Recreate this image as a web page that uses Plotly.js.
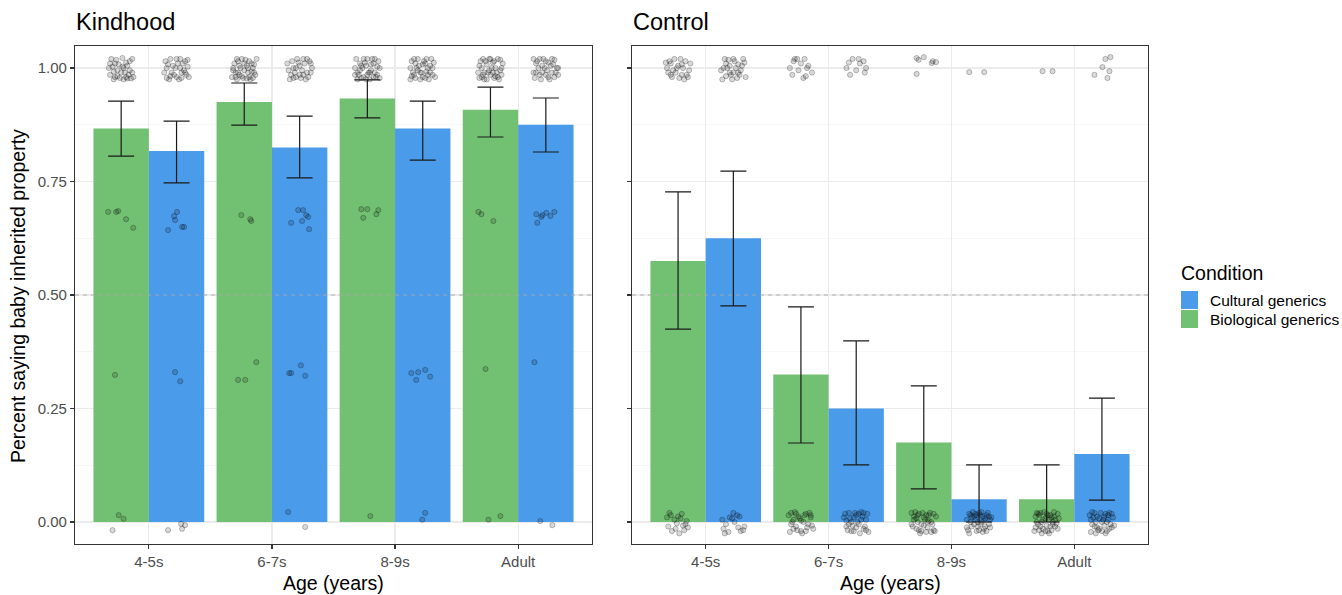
<!DOCTYPE html>
<html>
<head>
<meta charset="utf-8">
<script src="https://cdn.plot.ly/plotly-3.0.1.min.js"></script>
<style>html,body{margin:0;padding:0;background:#fff;}#chart{width:1342px;height:595px;}</style>
</head>
<body>
<div id="chart"></div>
<script>
// ---------------- DATA ----------------
const ages = ["4-5s", "6-7s", "8-9s", "Adult"];
const panelNames = ["Kindhood", "Control"];
const conditionNames = ["Cultural generics", "Biological generics"];

// Kindhood panel: bar means and error-bar limits
const kindBio      = [0.867, 0.925, 0.933, 0.908];
const kindBioHi    = [0.927, 0.967, 0.974, 0.958];
const kindBioLo    = [0.806, 0.874, 0.890, 0.848];
const kindCult     = [0.817, 0.825, 0.867, 0.875];
const kindCultHi   = [0.883, 0.894, 0.927, 0.934];
const kindCultLo   = [0.747, 0.758, 0.797, 0.815];

// Control panel
const ctrlBio      = [0.575, 0.325, 0.175, 0.050];
const ctrlBioHi    = [0.727, 0.474, 0.300, 0.126];
const ctrlBioLo    = [0.425, 0.174, 0.073, 0.000];
const ctrlCult     = [0.625, 0.250, 0.050, 0.150];
const ctrlCultHi   = [0.773, 0.399, 0.126, 0.273];
const ctrlCultLo   = [0.476, 0.126, 0.000, 0.048];

// Individual (jittered) participant scores: [horizontal jitter in category units, score]
const kindBioPts = [
  [[-0.08,1.02],[-0.05,1.01],[0.02,1.00],[0.07,1.015],[0.09,0.99],[-0.09,0.985],[-0.03,0.995],[0.04,0.98],[-0.06,0.975],[0.01,1.022],[0.05,1.005],[-0.01,0.978],[0.08,0.977],[-0.07,1.003],[0.03,0.99],[-0.04,1.018],[0.06,0.985],[-0.02,1.008],[0.10,0.98],[-0.10,1.0],[0.00,0.99],[-0.06,0.992],[0.04,1.012],[0.07,0.995],[-0.09,1.01],[0.02,0.975],[-0.03,0.982],[0.09,1.02],[-0.05,0.98],[0.05,0.977],[0.01,1.003],
   [-0.106,0.683],[-0.04,0.683],[-0.024,0.685],[0.04,0.667],[0.098,0.648],[-0.05,0.324],[-0.02,0.015],[0.02,0.007],[-0.07,-0.018]],
  [[-0.09,1.0],[-0.07,0.99],[-0.05,1.015],[-0.04,0.985],[-0.02,1.02],[0.0,0.995],[0.02,1.005],[0.04,0.98],[0.06,1.01],[0.08,0.99],[0.10,1.02],[-0.10,0.98],[-0.08,1.01],[-0.06,0.975],[-0.03,1.0],[-0.01,0.978],[0.01,1.018],[0.03,0.99],[0.05,0.975],[0.07,1.0],[0.09,0.985],[-0.09,0.995],[-0.06,1.02],[-0.04,1.005],[-0.02,0.982],[0.0,1.01],[0.02,0.977],[0.04,1.015],[0.06,0.992],[0.08,1.008],[-0.07,0.98],[-0.05,0.99],[0.03,1.0],[0.07,0.978],
   [-0.024,0.676],[0.049,0.667],[0.057,0.663],[0.098,0.352],[-0.05,0.313],[0.008,0.313]],
  [[-0.08,0.99],[-0.06,1.01],[-0.1,1.0],[-0.03,0.98],[0.0,1.02],[0.03,0.995],[0.05,1.01],[0.08,0.985],[0.1,1.0],[-0.09,1.02],[-0.05,0.978],[-0.01,1.005],[0.02,0.975],[0.06,0.99],[0.09,1.015],[-0.07,0.985],[-0.04,1.0],[0.01,0.99],[0.04,1.02],[0.07,0.98],[-0.02,1.012],[-0.08,0.975],[0.05,0.98],[-0.06,0.995],[0.0,0.985],[0.03,1.008],[-0.03,1.02],[0.08,1.003],[-0.1,0.985],[0.06,1.02],[-0.05,1.005],[0.02,0.99],[-0.01,0.975],[0.1,0.978],
   [-0.049,0.689],[0.0,0.689],[0.089,0.687],[-0.033,0.670],[0.073,0.678],[0.024,0.013]],
  [[-0.09,1.005],[-0.07,0.98],[-0.04,1.015],[-0.02,0.99],[0.01,1.0],[0.03,0.978],[0.06,1.02],[0.08,0.995],[0.1,1.01],[-0.1,0.99],[-0.06,1.02],[-0.03,0.975],[0.0,0.985],[0.02,1.012],[0.05,0.99],[0.07,0.975],[0.09,0.985],[-0.08,1.015],[-0.05,0.99],[-0.01,1.02],[0.04,1.0],[0.08,1.018],[-0.07,1.0],[-0.03,1.008],[0.02,0.99],[0.06,0.98],[-0.09,0.978],[0.0,1.02],[0.04,0.982],[-0.05,0.975],[0.09,1.0],[-0.01,0.995],[0.03,1.015],[-0.06,0.985],
   [-0.098,0.683],[-0.073,0.678],[0.024,0.663],[-0.04,0.337],[-0.016,0.005],[0.081,0.013]]
];
const kindCultPts = [
  [[-0.08,1.0],[-0.05,1.02],[-0.02,0.985],[0.01,1.01],[0.04,0.99],[0.07,1.015],[0.1,0.98],[-0.1,0.99],[-0.06,0.975],[-0.03,1.005],[0.0,0.98],[0.03,1.02],[0.06,0.995],[0.09,1.003],[-0.09,1.015],[-0.04,0.99],[0.02,0.975],[0.05,1.01],[0.08,0.985],[-0.07,1.008],[-0.01,1.0],[0.04,0.978],[-0.05,0.982],[0.07,0.99],[0.0,1.02],[-0.08,0.978],[0.03,1.0],[0.09,1.018],
   [-0.02,0.674],[0.004,0.683],[-0.012,0.665],[-0.069,0.643],[0.045,0.650],[0.061,0.650],[-0.012,0.33],[0.03,0.31],[-0.069,-0.018],[0.037,-0.004],[0.069,-0.007],[0.045,-0.015]],
  [[-0.09,0.995],[-0.06,1.015],[-0.03,0.98],[0.0,1.005],[0.03,0.985],[0.06,1.02],[0.09,0.99],[-0.08,0.975],[-0.05,1.0],[-0.02,1.02],[0.01,0.978],[0.04,1.01],[0.07,0.98],[0.1,1.0],[-0.1,1.01],[-0.04,0.99],[0.02,0.995],[0.05,0.975],[0.08,1.015],[-0.07,0.985],[-0.01,1.012],[0.03,1.02],[-0.05,0.978],[0.06,0.99],[0.0,0.985],[-0.03,1.0],[0.09,1.01],
   [-0.012,0.687],[0.028,0.687],[0.053,0.676],[0.069,0.672],[0.02,0.663],[-0.069,0.659],[0.077,0.645],[-0.085,0.328],[-0.069,0.328],[0.045,0.322],[0.01,0.345],[-0.093,0.022],[0.045,-0.011]],
  [[-0.1,1.0],[-0.07,0.985],[-0.04,1.02],[-0.01,0.99],[0.02,1.01],[0.05,0.975],[0.08,1.0],[-0.09,1.015],[-0.06,0.978],[-0.03,1.005],[0.0,0.98],[0.03,1.02],[0.06,0.99],[0.09,1.012],[-0.08,0.99],[-0.05,1.0],[-0.02,0.975],[0.01,1.015],[0.04,0.985],[0.07,1.02],[0.1,0.98],[-0.09,0.982],[-0.04,0.995],[0.02,0.978],[0.06,1.005],[-0.07,1.02],[0.0,1.008],[0.04,1.0],[-0.02,0.99],[0.08,0.985],[-0.06,1.01],[0.03,0.992],[-0.1,0.975],
   [-0.093,0.328],[-0.037,0.330],[0.02,0.335],[-0.053,0.313],[0.06,0.32],[0.02,0.02],[-0.004,0.005]],
  [[-0.08,1.01],[-0.05,0.985],[-0.02,1.02],[0.01,0.995],[0.04,1.005],[0.07,0.98],[0.1,1.0],[-0.1,0.99],[-0.07,1.015],[-0.04,0.975],[-0.01,1.0],[0.02,0.98],[0.05,1.02],[0.08,0.99],[-0.09,0.978],[-0.06,1.0],[-0.03,0.99],[0.0,1.015],[0.03,0.975],[0.06,1.008],[0.09,1.0],[-0.05,1.02],[0.0,0.985],[0.05,0.99],[-0.08,0.99],[0.02,1.012],[0.07,1.018],[-0.03,1.005],[0.1,0.985],[-0.1,1.02],
   [-0.077,0.678],[-0.037,0.672],[-0.028,0.676],[0.004,0.681],[0.037,0.674],[0.069,0.683],[-0.069,0.659],[-0.093,0.352],[-0.045,0.002],[0.053,-0.007]]
];
const ctrlBioPts = [
  [[-0.08,0.99],[-0.06,1.01],[-0.03,1.02],[0.0,1.005],[0.03,0.985],[0.06,1.015],[0.09,0.995],[-0.09,1.0],[-0.05,0.98],[-0.02,0.99],[0.01,0.978],[0.04,1.0],[0.07,0.985],[0.1,1.01],[-0.07,1.015],[-0.04,0.995],[0.02,1.02],[0.05,0.975],[-0.01,1.0],[0.08,0.98],[-0.06,0.985],[0.03,1.008],[-0.1,1.012],
   [-0.09,0.01],[-0.06,0.015],[-0.03,0.005],[0.0,0.012],[0.03,0.018],[0.06,-0.005],[0.08,-0.012],[-0.08,-0.01],[-0.05,-0.02],[-0.02,-0.015],[0.01,-0.025],[0.04,-0.008],[0.07,0.002],[-0.07,0.02],[-0.01,-0.003],[0.05,-0.018],[0.02,0.008]],
  [[-0.09,1.0],[-0.06,1.015],[-0.03,1.02],[0.0,1.01],[0.03,1.02],[0.06,1.005],[0.09,0.99],[-0.07,0.985],[-0.02,0.995],[0.02,0.978],[0.05,1.0],[-0.05,1.02],[0.04,0.982],
   [-0.1,0.015],[-0.08,0.02],[-0.06,0.005],[-0.04,-0.01],[-0.02,0.012],[0.0,-0.02],[0.02,0.0],[0.04,0.018],[0.06,-0.005],[0.08,0.01],[0.1,-0.015],[-0.09,-0.022],[-0.07,0.0],[-0.05,0.022],[-0.03,-0.018],[-0.01,0.008],[0.01,-0.025],[0.03,0.015],[0.05,-0.012],[0.07,0.02],[0.09,-0.008],[-0.08,-0.005],[-0.04,0.018],[0.0,0.003],[0.04,-0.02],[0.08,0.015],[-0.06,-0.015]],
  [[-0.058,1.022],[-0.042,1.018],[0.0,1.024],[0.065,1.011],[0.073,1.015],[0.1,1.013],[-0.058,0.987],
   [-0.1,0.02],[-0.08,0.005],[-0.06,-0.015],[-0.04,0.018],[-0.02,-0.005],[0.0,0.01],[0.02,-0.022],[0.04,0.015],[0.06,0.0],[0.08,-0.018],[0.1,0.012],[-0.09,-0.01],[-0.07,0.022],[-0.05,0.0],[-0.03,-0.025],[-0.01,0.02],[0.01,0.005],[0.03,-0.012],[0.05,0.02],[0.07,-0.005],[0.09,-0.02],[-0.08,0.012],[-0.04,-0.018],[0.0,-0.008],[0.04,0.003],[0.08,0.018],[-0.06,0.008],[0.02,0.015],[-0.02,-0.02],[0.06,-0.022],[-0.1,-0.005],[0.03,0.0],[-0.05,0.015]],
  [[-0.033,0.993],[0.048,0.993],
   [-0.09,0.012],[-0.07,-0.005],[-0.05,0.02],[-0.03,-0.015],[-0.01,0.008],[0.01,-0.02],[0.03,0.015],[0.05,0.0],[0.07,-0.01],[0.09,0.018],[-0.1,-0.02],[-0.08,0.0],[-0.06,0.015],[-0.04,-0.025],[-0.02,0.022],[0.0,-0.008],[0.02,0.005],[0.04,-0.018],[0.06,0.012],[0.08,-0.003],[0.1,0.008],[-0.09,-0.012],[-0.06,-0.018],[-0.03,0.005],[0.0,0.018],[0.03,-0.01],[0.06,0.022],[0.09,-0.015],[-0.07,0.018],[-0.01,-0.02],[0.04,0.01],[-0.04,0.0],[0.07,0.005],[-0.08,0.02],[0.02,-0.025],[0.05,-0.005],[-0.05,-0.01],[0.01,0.015]]
];
const ctrlCultPts = [
  [[-0.1,0.995],[-0.07,1.02],[-0.05,1.0],[-0.02,0.985],[0.01,1.015],[0.04,0.99],[0.07,1.005],[0.1,0.98],[-0.09,0.975],[-0.06,1.01],[-0.03,0.99],[0.0,1.02],[0.03,0.978],[0.06,0.995],[0.09,1.012],[-0.08,1.0],[-0.04,1.018],[0.02,1.0],[0.05,0.985],[0.08,1.02],[-0.01,0.975],[0.04,1.008],[-0.06,0.982],[0.0,0.99],[-0.03,1.005],
   [-0.08,-0.015],[-0.06,-0.005],[-0.03,0.01],[0.0,0.02],[0.03,0.015],[0.06,-0.02],[0.09,-0.01],[-0.09,0.005],[-0.04,-0.022],[0.01,0.0],[0.05,0.012],[0.08,-0.018],[-0.07,-0.025],[-0.01,0.008],[0.04,-0.012]],
  [[-0.08,1.0],[-0.06,1.012],[-0.03,1.02],[0.0,0.995],[0.03,1.01],[0.06,1.015],[0.08,1.0],[-0.05,0.985],[0.02,1.02],[0.07,0.99],
   [-0.1,0.01],[-0.08,-0.01],[-0.06,0.02],[-0.04,0.0],[-0.02,-0.02],[0.0,0.015],[0.02,-0.005],[0.04,0.022],[0.06,-0.015],[0.08,0.005],[0.1,-0.022],[-0.09,0.018],[-0.07,-0.018],[-0.05,0.008],[-0.03,-0.008],[-0.01,0.02],[0.01,0.0],[0.03,-0.025],[0.05,0.012],[0.07,-0.01],[0.09,0.018],[-0.08,0.003],[-0.04,-0.02],[0.0,-0.012],[0.04,0.005],[0.08,-0.018],[-0.06,-0.005],[0.02,0.018],[-0.02,0.01],[0.06,0.02]],
  [[-0.08,0.991],[0.042,0.991],
   [-0.1,0.005],[-0.08,0.018],[-0.06,-0.01],[-0.04,0.012],[-0.02,-0.02],[0.0,0.02],[0.02,0.0],[0.04,-0.015],[0.06,0.015],[0.08,-0.005],[0.1,0.01],[-0.09,-0.018],[-0.07,0.0],[-0.05,0.022],[-0.03,0.005],[-0.01,-0.01],[0.01,0.015],[0.03,-0.022],[0.05,0.008],[0.07,0.02],[0.09,-0.012],[-0.08,-0.025],[-0.06,0.01],[-0.04,-0.005],[-0.02,0.015],[0.0,-0.018],[0.02,0.022],[0.04,0.003],[0.06,-0.02],[0.08,0.012],[-0.1,-0.012],[-0.03,0.018],[0.01,-0.005],[0.05,-0.01],[-0.07,0.015],[0.09,0.005],[-0.01,0.0],[0.03,0.012]],
  [[-0.061,0.985],[0.004,1.002],[0.028,1.02],[0.069,1.024],[0.061,0.993],[0.045,0.978],
   [-0.1,0.015],[-0.08,-0.005],[-0.06,0.02],[-0.04,-0.012],[-0.02,0.008],[0.0,-0.02],[0.02,0.012],[0.04,0.0],[0.06,-0.015],[0.08,0.018],[0.1,-0.008],[-0.09,-0.022],[-0.07,0.01],[-0.05,0.0],[-0.03,-0.018],[-0.01,0.02],[0.01,0.005],[0.03,-0.025],[0.05,0.015],[0.07,-0.005],[0.09,0.01],[-0.08,0.022],[-0.04,0.012],[0.0,0.0],[0.04,-0.02],[0.08,-0.012],[-0.06,-0.01],[0.02,-0.008],[0.06,0.02],[-0.02,-0.015],[0.05,0.005],[-0.09,0.005],[0.03,0.018],[-0.05,-0.025]]
];

// ---------------- STYLE ----------------
const W = 1342, H = 595;
const GREEN = "#72C072", BLUE = "#4A9BE9";
const FONT = "Liberation Sans, Arial, sans-serif";
const px = v => v / W;             // pixel -> paper x
const py = v => 1 - v / H;         // pixel -> paper y
const DODGE = 0.225, BARW = 0.45;
const catPos = ages.map((_, i) => i + 1);

function barTrace(vals, color, name, xa, ya, off) {
  return {type: "bar", x: catPos.map(c => c + off), y: vals, width: BARW, name: name,
    xaxis: xa, yaxis: ya, marker: {color: color, line: {width: 0}}, showlegend: false, hoverinfo: "skip"};
}
function pointTrace(ptsByCat, off, xa, ya) {
  const xs = [], ys = [];
  ptsByCat.forEach((pts, i) => pts.forEach(p => { xs.push(catPos[i] + off + p[0]); ys.push(p[1]); }));
  return {type: "scatter", mode: "markers", x: xs, y: ys, xaxis: xa, yaxis: ya, showlegend: false, hoverinfo: "skip",
    marker: {size: 5.2, color: "rgba(0,0,0,0.15)", line: {color: "rgba(0,0,0,0.3)", width: 0.8}}};
}
function errTrace(vals, hi, lo, xa, ya, off) {
  return {type: "scatter", mode: "markers", x: catPos.map(c => c + off), y: vals, xaxis: xa, yaxis: ya,
    marker: {opacity: 0, size: 1}, showlegend: false, hoverinfo: "skip",
    error_y: {type: "data", symmetric: false, array: hi.map((h, i) => h - vals[i]), arrayminus: vals.map((v, i) => v - lo[i]),
      color: "#1a1a1a", thickness: 1.2, width: 13}};
}

const data = [
  barTrace(kindBio, GREEN, conditionNames[1], "x", "y", -DODGE),
  barTrace(kindCult, BLUE, conditionNames[0], "x", "y", DODGE),
  barTrace(ctrlBio, GREEN, conditionNames[1], "x2", "y2", -DODGE),
  barTrace(ctrlCult, BLUE, conditionNames[0], "x2", "y2", DODGE),
  pointTrace(kindBioPts, -DODGE, "x", "y"),
  pointTrace(kindCultPts, DODGE, "x", "y"),
  pointTrace(ctrlBioPts, -DODGE, "x2", "y2"),
  pointTrace(ctrlCultPts, DODGE, "x2", "y2"),
  errTrace(kindBio, kindBioHi, kindBioLo, "x", "y", -DODGE),
  errTrace(kindCult, kindCultHi, kindCultLo, "x", "y", DODGE),
  errTrace(ctrlBio, ctrlBioHi, ctrlBioLo, "x2", "y2", -DODGE),
  errTrace(ctrlCult, ctrlCultHi, ctrlCultLo, "x2", "y2", DODGE)
];

const PANEL_TOP = 46, PANEL_BOT = 544;
const P1 = [75, 592], P2 = [632, 1148];
const yRange = [-0.0485, 1.0485];

function xAxis(dom, anchor) {
  return {domain: [px(dom[0]), px(dom[1])], anchor: anchor, range: [0.4, 4.6],
    tickmode: "array", tickvals: catPos, ticktext: ages, ticks: "outside", ticklen: 4, tickwidth: 1.1, tickcolor: "#333333",
    tickfont: {family: FONT, size: 15, color: "#4D4D4D"},
    showline: true, linecolor: "#333333", linewidth: 1.1, mirror: true,
    showgrid: true, gridcolor: "#EBEBEB", gridwidth: 1.1, zeroline: false, fixedrange: true};
}
function yAxis(anchor, labels) {
  return {domain: [py(PANEL_BOT), py(PANEL_TOP)], anchor: anchor, range: yRange,
    tickmode: "array", tickvals: [0, 0.25, 0.5, 0.75, 1], ticktext: ["0.00", "0.25", "0.50", "0.75", "1.00"],
    showticklabels: labels, ticks: "outside", ticklen: 4, tickwidth: 1.1, tickcolor: "#333333",
    tickfont: {family: FONT, size: 15, color: "#4D4D4D"},
    showline: true, linecolor: "#333333", linewidth: 1.1, mirror: true,
    showgrid: true, gridcolor: "#EBEBEB", gridwidth: 1.1, zeroline: false, fixedrange: true,
    minor: {tickmode: "array", tickvals: [0.125, 0.375, 0.625, 0.875], showgrid: true, gridcolor: "#F2F2F2", gridwidth: 0.6, ticks: ""}};
}

function dashed(xa, ya) {
  return {type: "line", xref: xa + " domain", yref: ya, x0: 0, x1: 1, y0: 0.5, y1: 0.5, layer: "above",
    line: {color: "rgba(170,170,170,0.9)", width: 1, dash: "4px,4px"}};
}

const annotations = [
  {text: panelNames[0], xref: "paper", yref: "paper", x: px(P1[0] - 1), y: py(22), xanchor: "left", yanchor: "middle", showarrow: false,
    font: {family: FONT, size: 23.5, color: "#000"}},
  {text: panelNames[1], xref: "paper", yref: "paper", x: px(P2[0] - 1), y: py(22), xanchor: "left", yanchor: "middle", showarrow: false,
    font: {family: FONT, size: 23.5, color: "#000"}},
  {text: "Age (years)", xref: "paper", yref: "paper", x: px((P1[0] + P1[1]) / 2), y: py(583), xanchor: "center", yanchor: "middle", showarrow: false,
    font: {family: FONT, size: 19.5, color: "#000"}},
  {text: "Age (years)", xref: "paper", yref: "paper", x: px((P2[0] + P2[1]) / 2), y: py(583), xanchor: "center", yanchor: "middle", showarrow: false,
    font: {family: FONT, size: 19.5, color: "#000"}},
  {text: "Percent saying baby inherited property", xref: "paper", yref: "paper", x: px(18), y: py(296), textangle: -90,
    xanchor: "center", yanchor: "middle", showarrow: false, font: {family: FONT, size: 19.5, color: "#000"}},
  // legend
  {text: "Condition", xref: "paper", yref: "paper", x: px(1179), y: py(273), xanchor: "left", yanchor: "middle", showarrow: false,
    font: {family: FONT, size: 19.5, color: "#000"}},
  {text: conditionNames[0], xref: "paper", yref: "paper", x: px(1208), y: py(300.5), xanchor: "left", yanchor: "middle", showarrow: false,
    font: {family: FONT, size: 15.5, color: "#000"}},
  {text: conditionNames[1], xref: "paper", yref: "paper", x: px(1208), y: py(319.5), xanchor: "left", yanchor: "middle", showarrow: false,
    font: {family: FONT, size: 15.5, color: "#000"}}
];

const shapes = [
  dashed("x", "y"), dashed("x2", "y2"),
  {type: "rect", xref: "paper", yref: "paper", x0: px(1181), x1: px(1198), y0: py(309), y1: py(291), fillcolor: BLUE, line: {width: 0}},
  {type: "rect", xref: "paper", yref: "paper", x0: px(1181), x1: px(1198), y0: py(328), y1: py(310), fillcolor: GREEN, line: {width: 0}}
];

const layout = {
  width: W, height: H, margin: {l: 0, r: 0, t: 0, b: 0},
  paper_bgcolor: "#ffffff", plot_bgcolor: "#ffffff",
  font: {family: FONT, color: "#000"},
  showlegend: false, barmode: "overlay",
  xaxis: xAxis(P1, "y"), yaxis: yAxis("x", true),
  xaxis2: xAxis(P2, "y2"), yaxis2: yAxis("x2", false),
  annotations: annotations, shapes: shapes
};

Plotly.newPlot("chart", data, layout, {staticPlot: true, displayModeBar: false});
</script>
</body>
</html>
